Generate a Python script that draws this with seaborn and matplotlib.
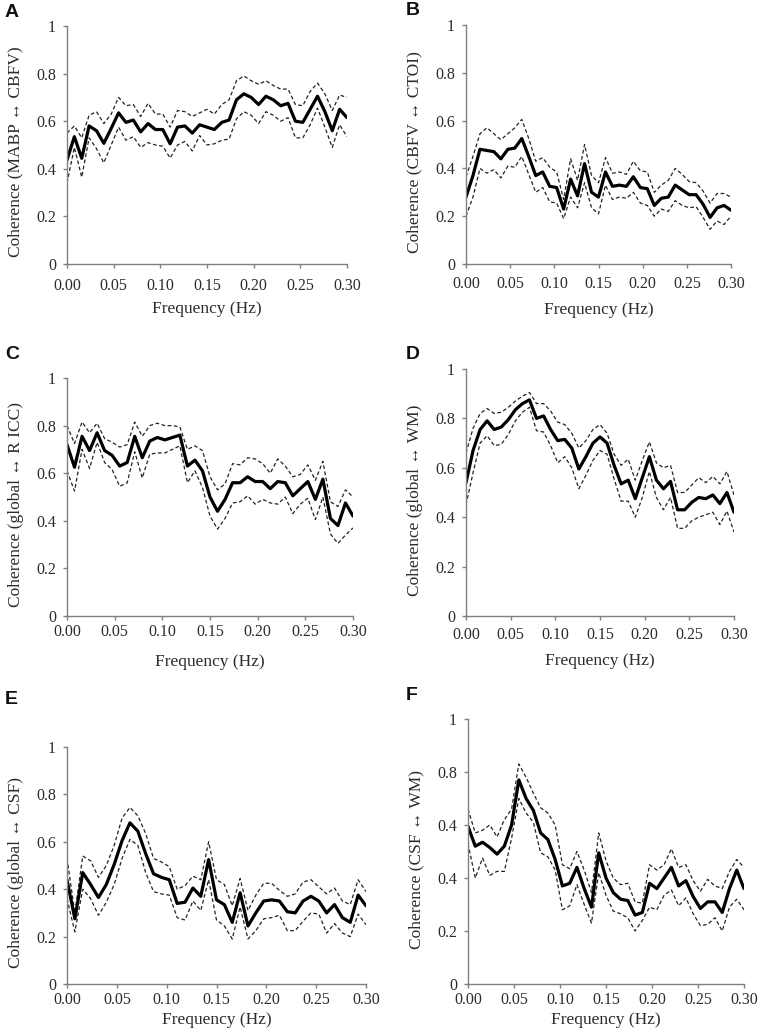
# Import Libraries
import numpy as np
import seaborn as sns
import matplotlib
matplotlib.use('Agg')
import matplotlib.pyplot as plt

# Frequency grid shared by all panels (Hz)
freq = np.linspace(0, 0.30, 39)

# Panel A: MABP <-> CBFV
a_mean = [0.437, 0.535, 0.444, 0.58, 0.56, 0.507, 0.57, 0.635, 0.595, 0.605, 0.555, 0.59, 0.565,
          0.565, 0.505, 0.575, 0.58, 0.55, 0.585, 0.575, 0.565, 0.595, 0.605, 0.69, 0.715, 0.70,
          0.67, 0.705, 0.69, 0.665, 0.675, 0.60, 0.595, 0.65, 0.705, 0.64, 0.56, 0.65, 0.615]
a_upper = [0.55, 0.58, 0.53, 0.625, 0.64, 0.59, 0.63, 0.70, 0.665, 0.67, 0.62, 0.675, 0.63,
           0.63, 0.575, 0.645, 0.64, 0.62, 0.635, 0.65, 0.63, 0.67, 0.69, 0.77, 0.79, 0.77,
           0.755, 0.77, 0.75, 0.735, 0.735, 0.67, 0.665, 0.725, 0.76, 0.715, 0.645, 0.71, 0.70]
a_lower = [0.34, 0.49, 0.365, 0.53, 0.485, 0.425, 0.50, 0.575, 0.52, 0.535, 0.49, 0.51, 0.50,
           0.495, 0.445, 0.50, 0.515, 0.475, 0.54, 0.50, 0.505, 0.52, 0.525, 0.61, 0.64, 0.625,
           0.59, 0.64, 0.625, 0.60, 0.615, 0.53, 0.53, 0.585, 0.655, 0.575, 0.49, 0.585, 0.535]

# Panel B: CBFV <-> CTOI
b_mean = [0.28, 0.37, 0.48, 0.475, 0.47, 0.44, 0.48, 0.485, 0.525, 0.45, 0.37, 0.385, 0.325,
          0.32, 0.23, 0.355, 0.285, 0.42, 0.30, 0.28, 0.385, 0.325, 0.33, 0.325, 0.365, 0.32,
          0.315, 0.245, 0.275, 0.28, 0.33, 0.31, 0.29, 0.29, 0.25, 0.195, 0.235, 0.245, 0.225]
b_upper = [0.365, 0.45, 0.545, 0.57, 0.545, 0.52, 0.545, 0.57, 0.605, 0.525, 0.43, 0.445, 0.405,
           0.385, 0.27, 0.44, 0.35, 0.50, 0.37, 0.34, 0.445, 0.38, 0.385, 0.375, 0.43, 0.39,
           0.385, 0.30, 0.33, 0.35, 0.40, 0.375, 0.345, 0.34, 0.305, 0.255, 0.295, 0.295, 0.28]
b_lower = [0.20, 0.28, 0.40, 0.38, 0.395, 0.36, 0.41, 0.405, 0.45, 0.375, 0.30, 0.32, 0.26,
           0.255, 0.19, 0.28, 0.235, 0.34, 0.235, 0.21, 0.33, 0.27, 0.28, 0.275, 0.30, 0.255,
           0.245, 0.20, 0.23, 0.22, 0.265, 0.245, 0.235, 0.24, 0.195, 0.145, 0.18, 0.165, 0.20]

# Panel C: global <-> R ICC
c_mean = [0.72, 0.625, 0.755, 0.695, 0.77, 0.695, 0.675, 0.63, 0.645, 0.755, 0.665, 0.735, 0.75,
          0.74, 0.75, 0.76, 0.63, 0.655, 0.61, 0.50, 0.44, 0.49, 0.56, 0.56, 0.585, 0.565,
          0.565, 0.535, 0.565, 0.56, 0.505, 0.535, 0.565, 0.49, 0.575, 0.41, 0.38, 0.475, 0.42]
c_upper = [0.80, 0.725, 0.815, 0.77, 0.81, 0.745, 0.73, 0.71, 0.72, 0.815, 0.755, 0.80, 0.81,
           0.80, 0.80, 0.795, 0.70, 0.715, 0.695, 0.585, 0.53, 0.555, 0.64, 0.635, 0.665, 0.66,
           0.64, 0.60, 0.66, 0.63, 0.585, 0.595, 0.635, 0.57, 0.65, 0.48, 0.46, 0.53, 0.50]
c_lower = [0.61, 0.525, 0.70, 0.62, 0.73, 0.645, 0.615, 0.545, 0.56, 0.69, 0.58, 0.68, 0.685,
           0.685, 0.70, 0.715, 0.56, 0.61, 0.54, 0.42, 0.365, 0.41, 0.475, 0.48, 0.505, 0.47,
           0.49, 0.475, 0.47, 0.50, 0.43, 0.47, 0.495, 0.405, 0.50, 0.345, 0.305, 0.34, 0.37]

# Panel D: global <-> WM
d_mean = [0.54, 0.67, 0.755, 0.79, 0.755, 0.765, 0.795, 0.835, 0.86, 0.875, 0.80, 0.81, 0.755,
          0.71, 0.715, 0.68, 0.595, 0.645, 0.70, 0.725, 0.70, 0.61, 0.535, 0.55, 0.475, 0.56,
          0.645, 0.55, 0.515, 0.545, 0.43, 0.43, 0.46, 0.48, 0.475, 0.49, 0.455, 0.50, 0.42]
d_upper = [0.66, 0.76, 0.82, 0.84, 0.82, 0.825, 0.845, 0.87, 0.89, 0.905, 0.86, 0.86, 0.83,
           0.785, 0.775, 0.74, 0.68, 0.71, 0.755, 0.775, 0.74, 0.655, 0.61, 0.635, 0.55, 0.63,
           0.705, 0.62, 0.60, 0.61, 0.50, 0.50, 0.53, 0.56, 0.54, 0.565, 0.535, 0.585, 0.49]
d_lower = [0.45, 0.58, 0.70, 0.73, 0.69, 0.695, 0.735, 0.79, 0.825, 0.845, 0.75, 0.745, 0.69,
           0.62, 0.645, 0.60, 0.515, 0.57, 0.63, 0.67, 0.655, 0.555, 0.465, 0.465, 0.40, 0.48,
           0.585, 0.48, 0.43, 0.48, 0.355, 0.355, 0.385, 0.40, 0.41, 0.42, 0.37, 0.425, 0.34]

# Panel E: global <-> CSF
e_mean = [0.44, 0.275, 0.47, 0.42, 0.365, 0.42, 0.505, 0.605, 0.68, 0.645, 0.55, 0.465, 0.45,
          0.44, 0.34, 0.345, 0.405, 0.37, 0.525, 0.355, 0.335, 0.26, 0.385, 0.245, 0.30, 0.35,
          0.355, 0.35, 0.305, 0.30, 0.35, 0.37, 0.35, 0.30, 0.335, 0.28, 0.26, 0.375, 0.33]
e_upper = [0.53, 0.30, 0.54, 0.52, 0.45, 0.50, 0.585, 0.70, 0.745, 0.71, 0.635, 0.53, 0.515,
           0.495, 0.40, 0.415, 0.455, 0.44, 0.60, 0.44, 0.42, 0.33, 0.445, 0.31, 0.375, 0.425,
           0.425, 0.395, 0.37, 0.38, 0.43, 0.44, 0.41, 0.38, 0.405, 0.35, 0.335, 0.44, 0.39]
e_lower = [0.36, 0.22, 0.40, 0.36, 0.29, 0.345, 0.42, 0.53, 0.61, 0.585, 0.47, 0.39, 0.38,
           0.375, 0.28, 0.27, 0.35, 0.31, 0.44, 0.27, 0.245, 0.19, 0.325, 0.19, 0.225, 0.275,
           0.28, 0.29, 0.225, 0.225, 0.265, 0.30, 0.295, 0.215, 0.255, 0.215, 0.20, 0.295, 0.25]

# Panel F: CSF <-> WM
f_mean = [0.595, 0.52, 0.535, 0.515, 0.49, 0.52, 0.60, 0.77, 0.70, 0.655, 0.57, 0.545, 0.47,
          0.37, 0.38, 0.44, 0.36, 0.29, 0.495, 0.40, 0.345, 0.32, 0.315, 0.26, 0.27, 0.38,
          0.36, 0.40, 0.44, 0.37, 0.39, 0.33, 0.285, 0.31, 0.31, 0.27, 0.36, 0.43, 0.36]
f_upper = [0.66, 0.57, 0.58, 0.60, 0.555, 0.62, 0.66, 0.83, 0.78, 0.72, 0.665, 0.645, 0.60,
           0.45, 0.435, 0.50, 0.43, 0.345, 0.57, 0.465, 0.40, 0.375, 0.38, 0.31, 0.305, 0.45,
           0.43, 0.45, 0.51, 0.44, 0.45, 0.39, 0.35, 0.395, 0.37, 0.36, 0.425, 0.47, 0.44]
f_lower = [0.53, 0.40, 0.475, 0.41, 0.425, 0.425, 0.55, 0.70, 0.645, 0.61, 0.495, 0.48, 0.43,
           0.28, 0.295, 0.375, 0.30, 0.23, 0.42, 0.335, 0.275, 0.265, 0.25, 0.20, 0.24, 0.29,
           0.28, 0.335, 0.355, 0.295, 0.325, 0.265, 0.22, 0.225, 0.25, 0.20, 0.29, 0.32, 0.28]

letters = ['A', 'B', 'C', 'D', 'E', 'F']
ylabels = ['Coherence (MABP \u2194 CBFV)', 'Coherence (CBFV \u2194 CTOI)',
           'Coherence (global \u2194 R ICC)', 'Coherence (global \u2194 WM)',
           'Coherence (global \u2194 CSF)', 'Coherence (CSF \u2194 WM)']
xticks = [0.00, 0.05, 0.10, 0.15, 0.20, 0.25, 0.30]
xticklabels = ['0.00', '0.05', '0.10', '0.15', '0.20', '0.25', '0.30']
yticks = [0, 0.2, 0.4, 0.6, 0.8, 1.0]
yticklabels = ['0', '0.2', '0.4', '0.6', '0.8', '1']
# panel F in the source repeats "0.4" at the 0.6 tick
yticklabels_f = ['0', '0.2', '0.4', '0.4', '0.8', '1']

series = [(a_mean, a_upper, a_lower), (b_mean, b_upper, b_lower), (c_mean, c_upper, c_lower),
          (d_mean, d_upper, d_lower), (e_mean, e_upper, e_lower), (f_mean, f_upper, f_lower)]

# axes boxes in pixels: left, right, top, bottom
boxes = [(67, 347, 26, 264), (466, 731, 25, 264),
         (67, 353, 378, 616), (466, 734, 369, 616),
         (67, 366, 747, 984), (468, 744, 719, 984)]
letter_pos = [(5, 4), (406, 2), (5, 346), (406, 346), (5, 691), (406, 687)]
# x tick label pad and x label pad per panel (points)
xtick_pads = [7.0, 5.8, 2.4, 5.0, 2.4, 2.4]
xlabel_pads = [5.3, 6.7, 10.5, 7.4, 3.2, 3.2]

W, H = 759, 1033
sns.set_theme(style='white')
plt.rcParams['font.family'] = ['Liberation Serif', 'DejaVu Serif']
plt.rcParams['lines.dashed_pattern'] = [3.0, 2.0]

fig = plt.figure(figsize=(W / 100, H / 100), dpi=100)
spine_col = '#808080'
text_col = '#2b2b2b'

for i, (mean, upper, lower) in enumerate(series):
    l, r, t, b = boxes[i]
    ax = fig.add_axes([l / W, 1 - b / H, (r - l) / W, (b - t) / H])
    sns.lineplot(x=freq, y=upper, ax=ax, color='#222222', lw=0.9, linestyle='--')
    sns.lineplot(x=freq, y=lower, ax=ax, color='#222222', lw=0.9, linestyle='--')
    sns.lineplot(x=freq, y=mean, ax=ax, color='black', lw=2.3, solid_joinstyle='round')
    ax.set_xlim(0, 0.30)
    ax.set_ylim(0, 1)
    ax.set_xticks(xticks)
    ax.set_xticklabels(xticklabels)
    ax.set_yticks(yticks)
    ax.set_yticklabels(yticklabels_f if i == 5 else yticklabels)
    for s in ['top', 'right']:
        ax.spines[s].set_visible(False)
    for s in ['left', 'bottom']:
        ax.spines[s].set_color(spine_col)
        ax.spines[s].set_linewidth(1.0)
    ax.tick_params(axis='both', which='major', direction='out', length=3, width=1,
                   color=spine_col, labelsize=11.5, labelcolor=text_col,
                   left=True, bottom=True)
    ax.tick_params(axis='x', pad=xtick_pads[i])
    ax.tick_params(axis='y', pad=5)
    ax.set_xlabel('Frequency (Hz)', fontsize=12.5, color=text_col, labelpad=xlabel_pads[i])
    ax.set_ylabel(ylabels[i], fontsize=12.5, color=text_col, labelpad=9)
    ax.yaxis.label.set_y(0.47)
    ax.grid(False)
    ax.patch.set_alpha(0)
    lx, ly = letter_pos[i]
    fig.text(lx / W, 1 - ly / H, letters[i], fontsize=14, fontweight='bold',
             family=['Liberation Sans', 'DejaVu Sans'], va='top', ha='left', color='#111111')

fig.savefig('out.png', dpi=100)
